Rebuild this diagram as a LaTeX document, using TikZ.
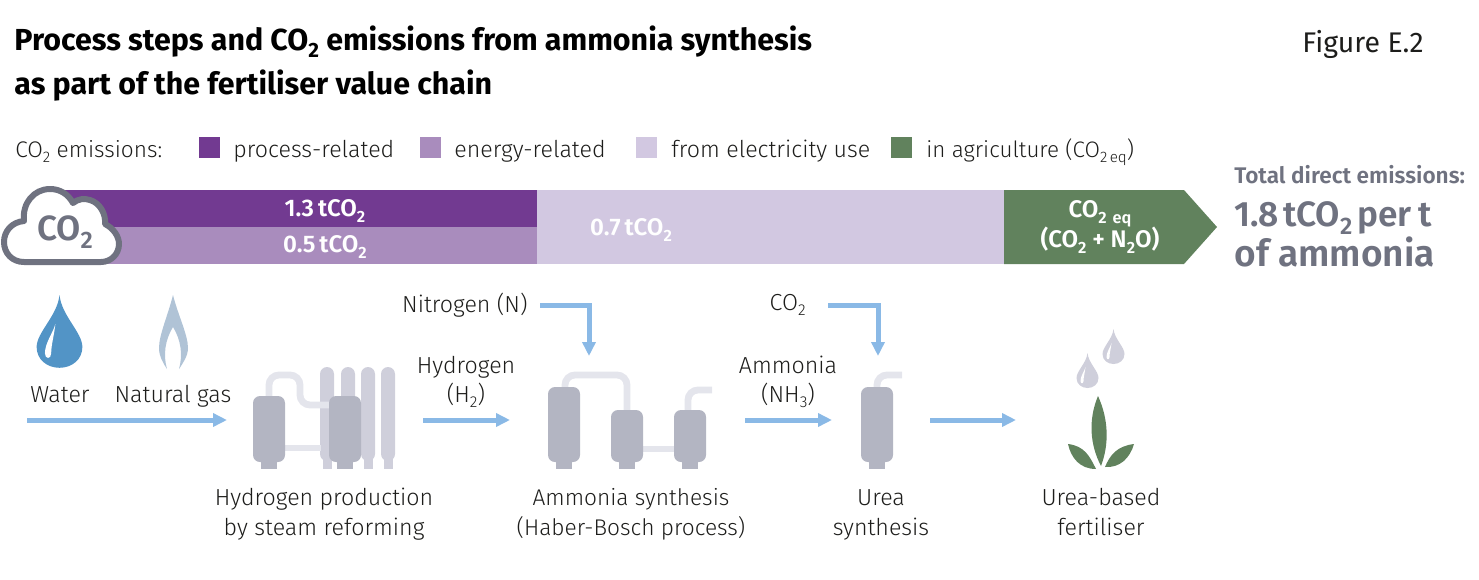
\documentclass[tikz,border=0pt]{standalone}
\usepackage{fontspec}
\setmainfont{Fira Sans Light}[BoldFont={Fira Sans SemiBold}]
\newfontfamily\heavyfont{Fira Sans Bold}
\newfontfamily\regularfont{Fira Sans}
\usetikzlibrary{arrows.meta}
\definecolor{inkdark}{HTML}{1D1D1B}
\definecolor{inkgrey}{HTML}{6F7280}
\definecolor{barprocess}{HTML}{723A91}
\definecolor{barenergy}{HTML}{A98CBD}
\definecolor{barpower}{HTML}{D2C8E1}
\definecolor{barfarm}{HTML}{61825D}
\definecolor{flowblue}{HTML}{8AB9E6}
\definecolor{waterblue}{HTML}{5294C6}
\definecolor{gasblue}{HTML}{B0C3D6}
\definecolor{vesselgrey}{HTML}{B3B5C2}
\definecolor{tubegrey}{HTML}{CFCFDB}
\definecolor{pipegrey}{HTML}{E4E5EC}
\makeatletter
\newcommand{\lowidx}[1]{\raisebox{-.45ex}{\fontsize{\the\dimexpr.68\dimexpr\f@size pt\relax\relax}{1em}\selectfont #1}}
\makeatother
\newcommand{\vessel}[2]{%
    \fill [vesselgrey, rounded corners=3.5pt] (#1,#2) rectangle (#1+32,462);
    \fill [vesselgrey] (#1+8,455) rectangle (#1+24,469);}
\newcommand{\tube}[1]{%
    \fill [tubegrey, rounded corners=3.5pt] (#1,367) rectangle (#1+14,461);
    \fill [tubegrey] (#1+3,455) rectangle (#1+12,469);}
\newcommand{\droplet}[4]{%
    \begin{scope}[shift={(#1,#2)}, scale=#3]
    \fill [#4] (0,0) .. controls (1,10) and (11,18) .. (11,25)
        .. controls (11,31) and (6,35) .. (0,35)
        .. controls (-6,35) and (-11,31) .. (-11,25)
        .. controls (-11,18) and (-1,10) .. (0,0);
    \fill [white] (-2,14) .. controls (-3,18) and (-7,23) .. (-7,28)
        .. controls (-7,31) and (-4,31) .. (-4,28)
        .. controls (-4,24) and (-2.5,19) .. (-2,14);
    \end{scope}}
\tikzset{
    plainlabel/.style={inner sep=0pt, text=inkdark, font=\fontsize{11.6}{15}\selectfont, align=center},
    legendlabel/.style={plainlabel, anchor=base west},
    barlabel/.style={inner sep=0pt, text=white, font=\bfseries\fontsize{12}{15}\selectfont, align=center},
    titlelabel/.style={inner sep=0pt, anchor=base west, text=black, font=\heavyfont\fontsize{15.2}{22}\selectfont},
    greylabel/.style={inner sep=0pt, anchor=base west, text=inkgrey, font=\bfseries},
    swatch/.style={minimum size=10.5pt, inner sep=0pt, draw=none},
    flow/.style={draw=flowblue, line width=2.5pt, -{Triangle[length=7pt,width=6.5pt]}},
    pipe/.style={draw=pipegrey, line width=3.4pt, rounded corners=5pt}
}
\begin{document}
\begin{tikzpicture}[x=.5pt,y=-.5pt]
            \useasboundingbox (0,0) rectangle (1479,579);
            \node [titlelabel] (titleone) at (14,50) {Process steps and CO\lowidx{2} emissions from ammonia synthesis};
            \node [titlelabel] (titletwo) at (14,94) {as part of the fertiliser value chain};
            \node [plainlabel, anchor=base east, font=\regularfont\fontsize{14.2}{15}\selectfont] (figno) at (1424,52) {Figure E.2};
            \node [legendlabel, font=\fontsize{11.3}{15}\selectfont] (legendhead) at (15,157) {CO\lowidx{2} emissions:};
            \node [swatch, fill=barprocess] (swprocess) at (209.5,147.5) {};
            \node [legendlabel] (lgprocess) at (233,157) {process-related};
            \node [swatch, fill=barenergy] (swenergy) at (430.5,147.5) {};
            \node [legendlabel] (lgenergy) at (454,157) {energy-related};
            \node [swatch, fill=barpower] (swpower) at (646.5,147.5) {};
            \node [legendlabel] (lgpower) at (671,157) {from electricity use};
            \node [swatch, fill=barfarm] (swfarm) at (901.5,147.5) {};
            \node [legendlabel, font=\fontsize{11.2}{15}\selectfont] (lgfarm) at (926,157) {in agriculture (CO\lowidx{2\,eq})};
            \fill [barprocess] (60,190) rectangle (537,227);
            \fill [barenergy] (60,227) rectangle (537,264);
            \fill [barpower] (537,190) rectangle (1004,264);
            \fill [barfarm] (1004,190) -- (1184,190) -- (1217,227) -- (1184,264) -- (1004,264) -- cycle;
            \draw [inkgrey, fill=white, line width=3pt, line join=round] (24,262)
                .. controls (12,262) and (4,253) .. (4,242)
                .. controls (4,231) and (12,222) .. (24,221)
                .. controls (22,203) and (34,189) .. (50,189)
                .. controls (60,189) and (68,194) .. (73,203)
                .. controls (78,199) and (84,198) .. (90,200)
                .. controls (100,203) and (106,214) .. (105,224)
                .. controls (113,228) and (119,236) .. (119,244)
                .. controls (119,254) and (111,262) .. (101,262) -- cycle;
            \node [inner sep=0pt, text=inkgrey, font=\bfseries\fontsize{17.5}{20}\selectfont] (cloudtext) at (65,232) {CO\lowidx{2}};
            \node [barlabel] (barone) at (325,211) {1.3\,tCO\lowidx{2}};
            \node [barlabel] (bartwo) at (325,247) {0.5\,tCO\lowidx{2}};
            \node [barlabel] (barthree) at (631,230) {0.7\,tCO\lowidx{2}};
            \node [barlabel] (barfour) at (1100,227) {CO\lowidx{2} \lowidx{eq}\\(CO\lowidx{2} + N\lowidx{2}O)};
            \node [greylabel, font=\bfseries\fontsize{11.3}{15}\selectfont] (totalhead) at (1234,183) {Total direct emissions:};
            \node [greylabel, font=\bfseries\fontsize{17.6}{22}\selectfont] (totalone) at (1234,226) {1.8\kern2pt tCO\lowidx{2}\kern2.5pt per\kern3.5pt t};
            \node [greylabel, font=\bfseries\fontsize{18.5}{22}\selectfont] (totaltwo) at (1234,266) {of ammonia};
            \droplet{59.5}{295}{2.08}{waterblue}
            \droplet{1087.5}{353}{1}{tubegrey}
            \droplet{1113.5}{329}{1}{tubegrey}
            \fill [gasblue] (173,295) .. controls (168,315) and (159,335) .. (159,348)
                .. controls (159,356) and (163,363) .. (167,369)
                .. controls (163,355) and (165,340) .. (173,327)
                .. controls (181,340) and (183,355) .. (179,369)
                .. controls (183,363) and (188,356) .. (188,348)
                .. controls (188,335) and (178,315) .. (173,295) -- cycle;
            \node [plainlabel, anchor=base] (water) at (60,402) {Water};
            \node [plainlabel, anchor=base] (natgas) at (173,402) {Natural gas};
            \tube{320}
            \tube{341}
            \tube{361}
            \tube{381}
            \draw [pipe] (269,398) -- (269,375) -- (300,375) -- (300,405) -- (331,405);
            \draw [pipe] (284,448) -- (321,448);
            \vessel{253}{396}
            \vessel{329}{396}
            \draw [pipe] (565,389) -- (565,375) -- (627,375) -- (627,412);
            \draw [pipe] (642,449) -- (675,449);
            \draw [pipe] (688,412) -- (688,390) -- (712,390);
            \vessel{548}{387}
            \vessel{611}{410}
            \vessel{674}{410}
            \draw [pipe] (877,389) -- (877,375) -- (902,375);
            \vessel{861}{387}
            \fill [barfarm] (1098,396) .. controls (1088,420) and (1090,445) .. (1101,466)
                .. controls (1109,445) and (1109,420) .. (1098,396) -- cycle;
            \fill [barfarm] (1068,444) .. controls (1085,446) and (1090,457) .. (1096,469)
                .. controls (1080,469) and (1071,458) .. (1068,444) -- cycle;
            \fill [barfarm] (1134,444) .. controls (1117,446) and (1110,455) .. (1105,467)
                .. controls (1120,468) and (1130,458) .. (1134,444) -- cycle;
            \node [plainlabel, anchor=base] (hyin) at (466,373) {Hydrogen};
            \node [plainlabel, anchor=base] (hyintwo) at (466,402) {(H\lowidx{2})};
            \node [plainlabel, anchor=base] (amin) at (788,373) {Ammonia};
            \node [plainlabel, anchor=base] (amintwo) at (788,402) {(NH\lowidx{3})};
            \node [plainlabel] (stepreform) at (324,514) {\strut Hydrogen production\\\strut by steam reforming};
            \node [plainlabel, font=\fontsize{11.35}{15}\selectfont] (stepammonia) at (631,514) {\strut Ammonia synthesis\\\strut (Haber-Bosch process)};
            \node [plainlabel] (stepurea) at (881,514) {\strut Urea\\\strut synthesis};
            \node [plainlabel] (stepfert) at (1101,514) {\strut Urea-based\\\strut fertiliser};
            \node [plainlabel, anchor=east, inner xsep=6pt] (nitrogen) at (540,305) {Nitrogen (N)};
            \node [plainlabel, anchor=east, inner xsep=11pt] (cotwo) at (828,305) {CO\lowidx{2}};
            \coordinate (feedstart) at (27,420);
            \coordinate (reformerin) at (227,420);
            \coordinate (reformerout) at (423,420);
            \coordinate (ammoniain) at (510,420);
            \coordinate (ammoniaout) at (745,420);
            \coordinate (ureain) at (832,420);
            \coordinate (ureaout) at (930,420);
            \coordinate (fertin) at (1016,420);
            \coordinate (nitrogenin) at (589,356);
            \coordinate (cotwoin) at (878,356);
            \draw [flow] (feedstart) -- (reformerin);
            \draw [flow] (reformerout) -- (ammoniain);
            \draw [flow] (ammoniaout) -- (ureain);
            \draw [flow] (ureaout) -- (fertin);
            \draw [flow] (nitrogen.east) -| (nitrogenin);
            \draw [flow] (cotwo.east) -| (cotwoin);
        \end{tikzpicture}
\end{document}
